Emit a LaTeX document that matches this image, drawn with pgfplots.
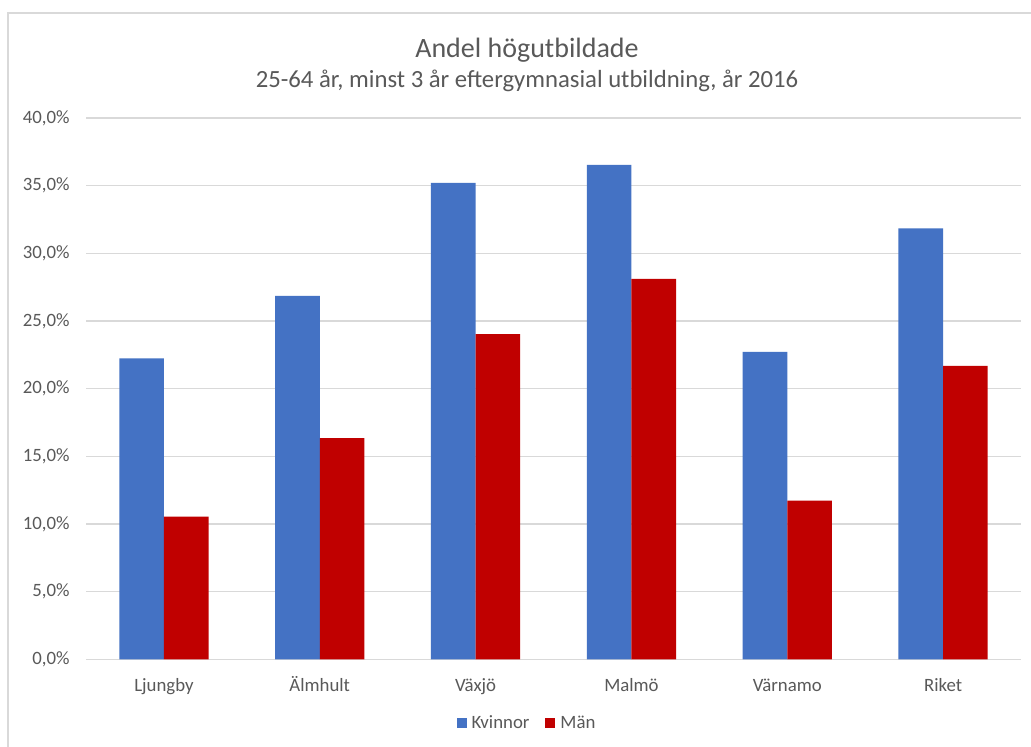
\documentclass[border=0pt]{standalone}
\usepackage{pgfplots}
\pgfplotsset{compat=1.18}
\usepackage{fontspec}
\setmainfont{Carlito}
\definecolor{kblue}{HTML}{4472C4}
\definecolor{mred}{HTML}{C00000}
\definecolor{gridgray}{HTML}{D9D9D9}
\definecolor{txtgray}{HTML}{595959}
\begin{document}
\begin{tikzpicture}
\useasboundingbox (0bp,0bp) rectangle (1031bp,747bp);
\fill[white] (0bp,0bp) rectangle (1031bp,747bp);
\draw[gridgray, line width=1.5bp] (8bp,-2bp) -- (8bp,734bp) -- (1035bp,734bp);
\node[text=txtgray, font=\fontsize{28bp}{32bp}\selectfont] at (527bp,697bp) {Andel högutbildade};
\node[text=txtgray, font=\fontsize{24.7bp}{28bp}\selectfont] at (527bp,666bp) {25-64 år, minst 3 år eftergymnasial utbildning, år 2016};
\begin{axis}[
  at={(86bp,87.7bp)}, anchor=south west,
  scale only axis, width=935bp, height=541.3bp,
  ybar=0pt, bar width=44.6bp,
  xmin=-0.5, xmax=5.5, ymin=0, ymax=40,
  xtick=data,
  xticklabels={Ljungby,Älmhult,Växjö,Malmö,Värnamo,Riket},
  ytick={0,5,10,15,20,25,30,35,40},
  yticklabels={{0,0\%},{5,0\%},{10,0\%},{15,0\%},{20,0\%},{25,0\%},{30,0\%},{35,0\%},{40,0\%}},
  axis line style={draw=none},
  major tick length=0pt,
  tick style={draw=none},
  ymajorgrids, grid style={gridgray, line width=1.4bp},
  ticklabel style={text=txtgray, font=\fontsize{18.8bp}{21bp}\selectfont},
  yticklabel style={xshift=-13bp},
  xticklabel style={anchor=base, yshift=-32bp},
  legend columns=2,
  legend style={at={(0.4717,-0.1177)}, anchor=center, draw=none, fill=none,
    font=\fontsize{18.8bp}{21bp}\selectfont, text=txtgray,
    /tikz/every even column/.append style={column sep=14bp}},
  legend image code/.code={\fill[#1] (0bp,-5bp) rectangle (10bp,5bp); \path (13bp,0bp);},
]
\addplot[fill=kblue, draw=none] coordinates {(0,22.24) (1,26.86) (2,35.2) (3,36.54) (4,22.71) (5,31.85)};
\addplot[fill=mred, draw=none] coordinates {(0,10.54) (1,16.34) (2,24.02) (3,28.12) (4,11.73) (5,21.68)};
\legend{Kvinnor, Män}
\end{axis}
\end{tikzpicture}
\end{document}
